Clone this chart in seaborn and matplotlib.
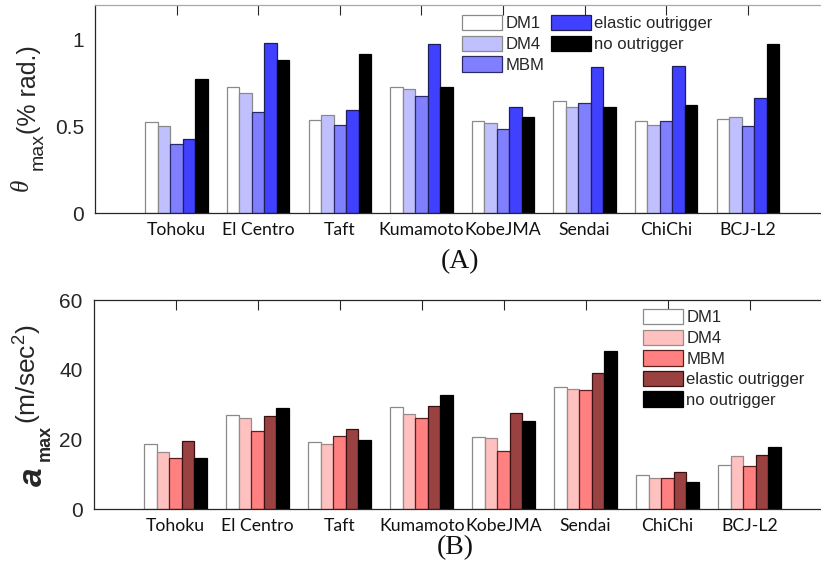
import matplotlib
matplotlib.use("Agg")
import matplotlib.pyplot as plt
from matplotlib.transforms import IdentityTransform
from matplotlib.patches import Patch
import seaborn as sns
import pandas as pd

# ---- data ----
quakes = ["Tohoku", "El Centro", "Taft", "Kumamoto", "KobeJMA", "Sendai", "ChiChi", "BCJ-L2"]
methods = ["DM1", "DM4", "MBM", "elastic outrigger", "no outrigger"]

# peak drift angle theta_max (% rad.)
theta_dm1 = [0.526, 0.728, 0.537, 0.728, 0.535, 0.647, 0.535, 0.543]
theta_dm4 = [0.505, 0.694, 0.568, 0.717, 0.520, 0.616, 0.509, 0.555]
theta_mbm = [0.399, 0.584, 0.509, 0.674, 0.486, 0.636, 0.532, 0.503]
theta_elastic = [0.428, 0.984, 0.595, 0.977, 0.613, 0.844, 0.850, 0.665]
theta_none = [0.776, 0.884, 0.921, 0.730, 0.557, 0.613, 0.626, 0.979]

# peak acceleration a_max (m/sec^2)
acc_dm1 = [18.6, 27.1, 19.3, 29.3, 20.7, 35.1, 9.8, 12.6]
acc_dm4 = [16.4, 26.2, 18.8, 27.3, 20.3, 34.5, 9.1, 15.4]
acc_mbm = [14.8, 22.5, 20.9, 26.3, 16.8, 34.3, 8.9, 12.4]
acc_elastic = [19.6, 26.8, 23.1, 29.7, 27.6, 39.1, 10.7, 15.7]
acc_none = [14.6, 29.1, 19.8, 32.9, 25.2, 45.4, 7.8, 17.9]

blue_fill = ["#ffffff", "#c0c0ff", "#8080ff", "#4040ff", "#000000"]
blue_edge = ["#8a8a8a", "#8a8a8a", "#2a2a6a", "#1e1e58", "#000000"]
red_fill = ["#ffffff", "#ffc0c0", "#ff8080", "#9a4242", "#000000"]
red_edge = ["#8a8a8a", "#9a8a8a", "#5a2020", "#3a1010", "#000000"]


def long_table(series):
    rows = []
    for m, vals in zip(methods, series):
        for q, v in zip(quakes, vals):
            rows.append({"quake": q, "method": m, "value": v})
    return pd.DataFrame(rows)


df_theta = long_table([theta_dm1, theta_dm4, theta_mbm, theta_elastic, theta_none])
df_acc = long_table([acc_dm1, acc_dm4, acc_mbm, acc_elastic, acc_none])

sns.set_style("white")
plt.rcParams["mathtext.fontset"] = "custom"
plt.rcParams["mathtext.rm"] = "Liberation Sans"
plt.rcParams["mathtext.it"] = "Liberation Sans:italic"
plt.rcParams["mathtext.bf"] = "Liberation Sans:bold"

W, H = 821, 577
fig = plt.figure(figsize=(W / 100, H / 100), dpi=100)
fig.patch.set_facecolor("white")

ink = "#262626"


def axes_px(left, top, right, bottom):
    return fig.add_axes([left / W, 1 - bottom / H, (right - left) / W, (bottom - top) / H])


def style_axes(ax, fills, edges, ylim, yticks, yticklabels, top_spine_color):
    for cont, ec in zip(ax.containers, edges):
        for p in cont.patches:
            p.set_edgecolor(ec)
            p.set_linewidth(0.9)
    leg = ax.get_legend()
    if leg is not None:
        leg.remove()
    ax.set_xlim(-1, len(quakes))
    ax.set_ylim(*ylim)
    ax.set_yticks(yticks)
    ax.set_yticklabels(yticklabels, fontfamily="Liberation Sans", fontsize=15, color=ink)
    ax.set_xticks(range(len(quakes)))
    ax.set_xticklabels(quakes, fontfamily="Lato", fontsize=12.7, color="#111111")
    ax.set_xlabel("")
    ax.set_ylabel("")
    ax.tick_params(axis="x", direction="in", length=7, width=0.8, color=ink,
                   top=True, bottom=True, pad=6)
    ax.tick_params(axis="y", direction="in", length=7, width=0.8, color=ink, pad=8)
    for side in ["left", "bottom"]:
        ax.spines[side].set_color(ink)
        ax.spines[side].set_linewidth(0.9)
    ax.spines["top"].set_color(top_spine_color)
    ax.spines["top"].set_linewidth(0.9)
    ax.spines["right"].set_visible(False)
    ax.set_facecolor("white")


def legend_handles(fills, edges):
    return [Patch(facecolor=f, edgecolor=e, linewidth=0.9) for f, e in zip(fills, edges)]


# ---- panel A: drift angle ----
ax1 = axes_px(95, 5.3, 829.4, 213.3)
sns.barplot(data=df_theta, x="quake", y="value", hue="method", hue_order=methods,
            palette=blue_fill, saturation=1, width=0.764, errorbar=None, ax=ax1)
style_axes(ax1, blue_fill, blue_edge, (0, 1.2), [0, 0.5, 1], ["0", "0.5", "1"], "#a8a8a8")
fig.legend(legend_handles(blue_fill, blue_edge), methods, ncol=2,
           loc="upper left", bbox_to_anchor=(462, H - 15), bbox_transform=IdentityTransform(),
           frameon=False, prop={"family": "Liberation Sans", "size": 12},
           handlelength=2.4, handleheight=1.05, handletextpad=0.2,
           labelspacing=0.25, columnspacing=0.4, borderpad=0, borderaxespad=0)

# ---- panel B: acceleration ----
ax2 = axes_px(93.7, 300, 831.7, 509.3)
sns.barplot(data=df_acc, x="quake", y="value", hue="method", hue_order=methods,
            palette=red_fill, saturation=1, width=0.764, errorbar=None, ax=ax2)
style_axes(ax2, red_fill, red_edge, (0, 60), [0, 20, 40, 60], ["0", "20", "40", "60"], ink)
fig.legend(legend_handles(red_fill, red_edge), methods, ncol=1,
           loc="upper left", bbox_to_anchor=(643, H - 309), bbox_transform=IdentityTransform(),
           frameon=False, prop={"family": "Liberation Sans", "size": 12},
           handlelength=2.4, handleheight=1.05, handletextpad=0.2,
           labelspacing=0.25, borderpad=0, borderaxespad=0)


# ---- rotated y-axis labels built from pieces (pixel coordinates) ----
def piece(x, y_img, s, **kw):
    fig.text(x, H - y_img, s, rotation=90, rotation_mode="anchor", ha="left",
             va="baseline", transform=IdentityTransform(), color=ink, **kw)


piece(28, 191, "θ", family="Liberation Serif", style="italic", size=18)
piece(43, 170, "max", family="Liberation Sans", size=14)
piece(36, 134, "(% rad.)", family="Liberation Sans", size=18)

piece(42, 486, "a", family="Liberation Sans", style="italic", weight="bold", size=24)
piece(50, 461, "max", family="Liberation Sans", weight="bold", size=13)
piece(37, 424, r"(m/sec$^{2}$)", family="Liberation Sans", size=19)

# ---- panel captions ----
fig.text(460, H - 262, "(A)", transform=IdentityTransform(), ha="center", va="center",
         family="Liberation Serif", size=20, color="#111111")
fig.text(455, H - 548, "(B)", transform=IdentityTransform(), ha="center", va="center",
         family="Liberation Serif", size=20, color="#111111")

fig.savefig("out.png", dpi=100, facecolor="white")
